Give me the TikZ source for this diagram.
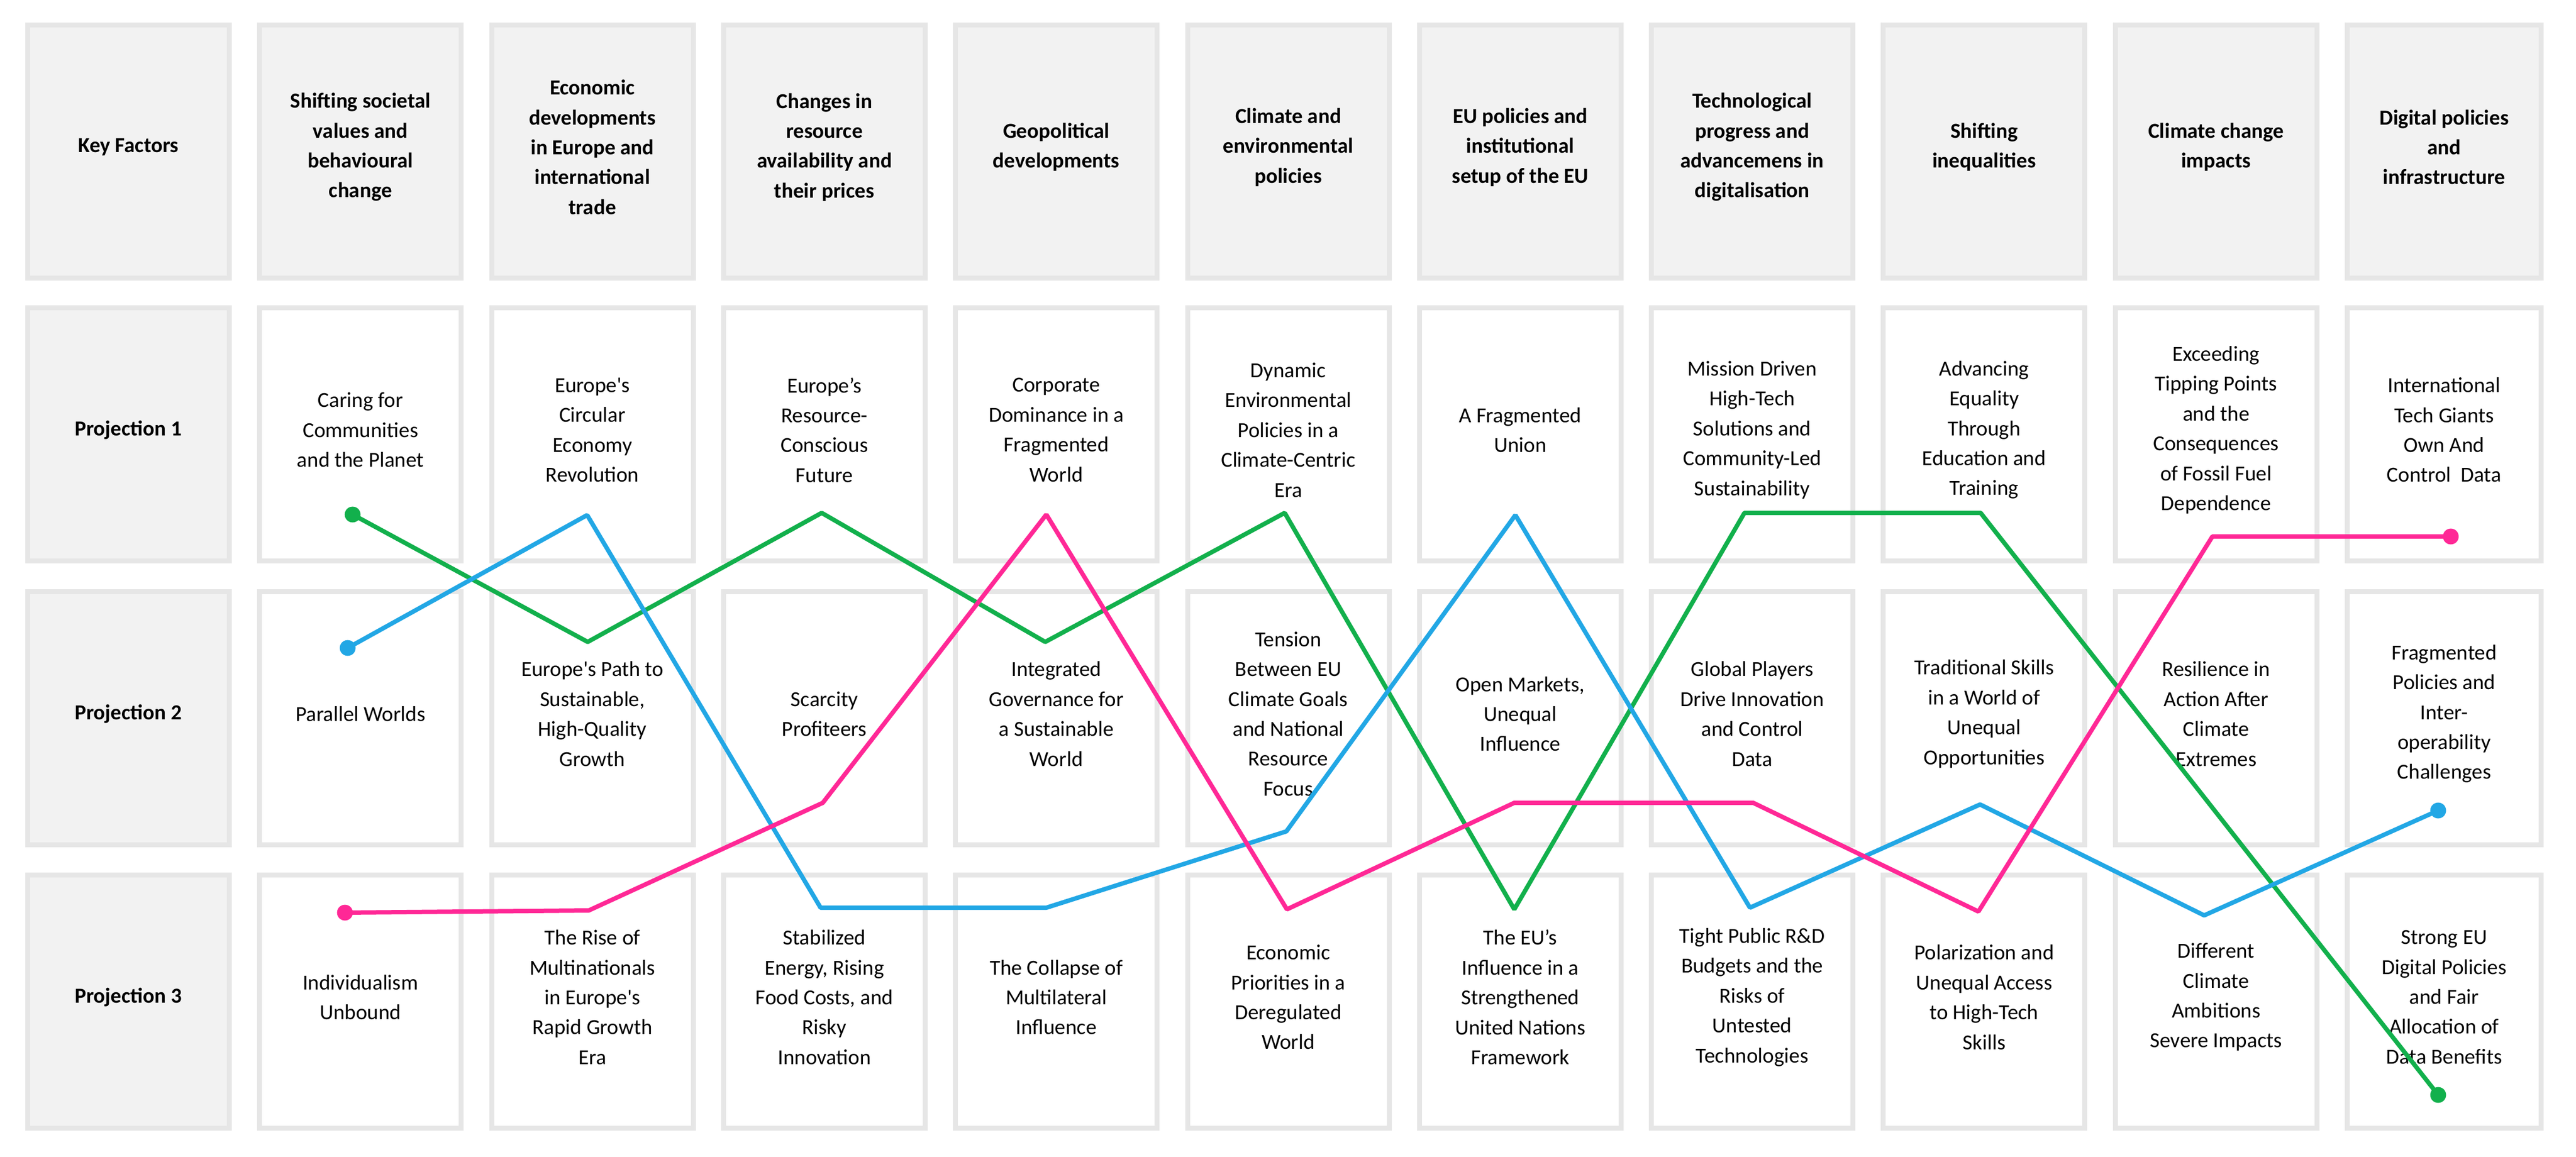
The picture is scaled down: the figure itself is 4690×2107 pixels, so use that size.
\documentclass[tikz,border=0pt]{standalone}
\usepackage{fontspec}
\setmainfont{Carlito}
\definecolor{cellgray}{RGB}{230,230,230}
\definecolor{headgray}{RGB}{242,242,242}
\definecolor{lgreen}{RGB}{18,176,76}
\definecolor{lblue}{RGB}{34,167,229}
\definecolor{lpink}{RGB}{255,40,150}
\newcommand{\mkcell}[5]{\node[#1] (#3) at (#4) {}; \node[#2] (#3t) at ([yshift=2pt]#3.center) {#5};}
\begin{document}
\begin{tikzpicture}[x=0.25pt,y=-0.25pt,
  cell/.style={draw=cellgray, line width=2.25pt, minimum width=91.75pt, minimum height=115.25pt, inner sep=0pt},
  head/.style={cell, fill=headgray},
  body/.style={cell, fill=white},
  headlast/.style={head, minimum width=88.25pt},
  bodylast/.style={body, minimum width=88.25pt},
  txt/.style={inner sep=0pt, align=center, text=black, font=\fontsize{9.75}{13.6}\selectfont},
  headtxt/.style={txt, font=\bfseries\fontsize{9.75}{13.6}\selectfont},
  trace/.style={line width=2pt, line join=bevel},
  dot/.style={circle, inner sep=0pt, minimum size=7.2pt, draw=none}]
\useasboundingbox (0,0) rectangle (4690,2107);
% ---------- header row ----------
\mkcell{head}{headtxt}{h0}{234,276}{Key Factors}
\mkcell{head}{headtxt}{h1}{656.3,276}{Shifting societal\\values and\\behavioural\\change}
\mkcell{head}{headtxt}{h2}{1078.6,276}{Economic\\developments\\in Europe and\\international\\trade}
\mkcell{head}{headtxt}{h3}{1500.9,276}{Changes in\\resource\\availability and\\their prices}
\mkcell{head}{headtxt}{h4}{1923.2,276}{Geopolitical\\developments}
\mkcell{head}{headtxt}{h5}{2345.5,276}{Climate and\\environmental\\policies}
\mkcell{head}{headtxt}{h6}{2767.8,276}{EU policies and\\institutional\\setup of the EU}
\mkcell{head}{headtxt}{h7}{3190.1,276}{Technological\\progress and\\advancemens in\\digitalisation}
\mkcell{head}{headtxt}{h8}{3612.4,276}{Shifting\\inequalities}
\mkcell{head}{headtxt}{h9}{4034.7,276}{Climate change\\impacts}
\mkcell{headlast}{headtxt}{h10}{4450,276}{Digital policies\\and\\infrastructure}
% ---------- projection 1 ----------
\mkcell{head}{headtxt}{a0}{234,791}{Projection 1}
\mkcell{body}{txt}{a1}{656.3,791}{Caring for\\Communities\\and the Planet}
\mkcell{body}{txt}{a2}{1078.6,791}{Europe\textquotesingle s\\Circular\\Economy\\Revolution}
\mkcell{body}{txt}{a3}{1500.9,791}{Europe’s\\Resource-\\Conscious\\Future}
\mkcell{body}{txt}{a4}{1923.2,791}{Corporate\\Dominance in a\\Fragmented\\World}
\mkcell{body}{txt}{a5}{2345.5,791}{Dynamic\\Environmental\\Policies in a\\Climate-Centric\\Era}
\mkcell{body}{txt}{a6}{2767.8,791}{A Fragmented\\Union}
\mkcell{body}{txt}{a7}{3190.1,791}{Mission Driven\\High-Tech\\Solutions and\\Community-Led\\Sustainability}
\mkcell{body}{txt}{a8}{3612.4,791}{Advancing\\Equality\\Through\\Education and\\Training}
\mkcell{body}{txt}{a9}{4034.7,791}{Exceeding\\Tipping Points\\and the\\Consequences\\of Fossil Fuel\\Dependence}
\mkcell{bodylast}{txt}{a10}{4450,791}{International\\Tech Giants\\Own And\\Control\ \ Data}
% ---------- projection 2 ----------
\mkcell{head}{headtxt}{b0}{234,1308}{Projection 2}
\mkcell{body}{txt}{b1}{656.3,1308}{Parallel Worlds}
\mkcell{body}{txt}{b2}{1078.6,1308}{Europe\textquotesingle s Path to\\Sustainable,\\High-Quality\\Growth}
\mkcell{body}{txt}{b3}{1500.9,1308}{Scarcity\\Profiteers}
\mkcell{body}{txt}{b4}{1923.2,1308}{Integrated\\Governance for\\a Sustainable\\World}
\mkcell{body}{txt}{b5}{2345.5,1308}{Tension\\Between EU\\Climate Goals\\and National\\Resource\\Focus}
\mkcell{body}{txt}{b6}{2767.8,1308}{Open Markets,\\Unequal\\Influence}
\mkcell{body}{txt}{b7}{3190.1,1308}{Global Players\\Drive Innovation\\and Control\\Data}
\mkcell{body}{txt}{b8}{3612.4,1308}{Traditional Skills\\in a World of\\Unequal\\Opportunities}
\mkcell{body}{txt}{b9}{4034.7,1308}{Resilience in\\Action After\\Climate\\Extremes}
\mkcell{bodylast}{txt}{b10}{4450,1308}{Fragmented\\Policies and\\Inter-\\operability\\Challenges}
% ---------- projection 3 ----------
\mkcell{head}{headtxt}{c0}{234,1824}{Projection 3}
\mkcell{body}{txt}{c1}{656.3,1824}{Individualism\\Unbound}
\mkcell{body}{txt}{c2}{1078.6,1824}{The Rise of\\Multinationals\\in Europe\textquotesingle s\\Rapid Growth\\Era}
\mkcell{body}{txt}{c3}{1500.9,1824}{Stabilized\\Energy, Rising\\Food Costs, and\\Risky\\Innovation}
\mkcell{body}{txt}{c4}{1923.2,1824}{The Collapse of\\Multilateral\\Influence}
\mkcell{body}{txt}{c5}{2345.5,1824}{Economic\\Priorities in a\\Deregulated\\World}
\mkcell{body}{txt}{c6}{2767.8,1824}{The EU’s\\Influence in a\\Strengthened\\United Nations\\Framework}
\mkcell{body}{txt}{c7}{3190.1,1824}{Tight Public R\&D\\Budgets and the\\Risks of\\Untested\\Technologies}
\mkcell{body}{txt}{c8}{3612.4,1824}{Polarization and\\Unequal Access\\to High-Tech\\Skills}
\mkcell{body}{txt}{c9}{4034.7,1824}{Different\\Climate\\Ambitions\\Severe Impacts}
\mkcell{bodylast}{txt}{c10}{4450,1824}{Strong EU\\Digital Policies\\and Fair\\Allocation of\\Data Benefits}
% ---------- green path ----------
\node[dot, fill=lgreen] (gS) at (642,937) {};
\node[dot, fill=lgreen] (gE) at (4439,1994) {};
\coordinate (g1) at (1070,1169);
\coordinate (g2) at (1496,934);
\coordinate (g3) at (1903,1169);
\coordinate (g4) at (2339,934);
\coordinate (g5) at (2757,1656);
\coordinate (g6) at (3176,934);
\coordinate (g7) at (3606,934);
\draw[trace, lgreen] (gS.center) -- (g1) -- (g2) -- (g3) -- (g4) -- (g5) -- (g6) -- (g7) -- (gE.center);
% ---------- blue path ----------
\node[dot, fill=lblue] (bS) at (633,1180) {};
\node[dot, fill=lblue] (bE) at (4439,1476) {};
\coordinate (q1) at (1069,938);
\coordinate (q2) at (1494,1653);
\coordinate (q3) at (1905,1653);
\coordinate (q4) at (2342,1514);
\coordinate (q5) at (2759,938);
\coordinate (q6) at (3186,1653);
\coordinate (q7) at (3605,1465);
\coordinate (q8) at (4013,1667);
\draw[trace, lblue] (bS.center) -- (q1) -- (q2) -- (q3) -- (q4) -- (q5) -- (q6) -- (q7) -- (q8) -- (bE.center);
% ---------- pink path ----------
\node[dot, fill=lpink] (pS) at (628,1662) {};
\node[dot, fill=lpink] (pE) at (4462,977) {};
\coordinate (r1) at (1072,1658);
\coordinate (r2) at (1498,1462);
\coordinate (r3) at (1905,937);
\coordinate (r4) at (2343,1656);
\coordinate (r5) at (2757,1462);
\coordinate (r6) at (3192,1462);
\coordinate (r7) at (3602,1660);
\coordinate (r8) at (4028,977);
\draw[trace, lpink] (pS.center) -- (r1) -- (r2) -- (r3) -- (r4) -- (r5) -- (r6) -- (r7) -- (r8) -- (pE.center);
\end{tikzpicture}
\end{document}
